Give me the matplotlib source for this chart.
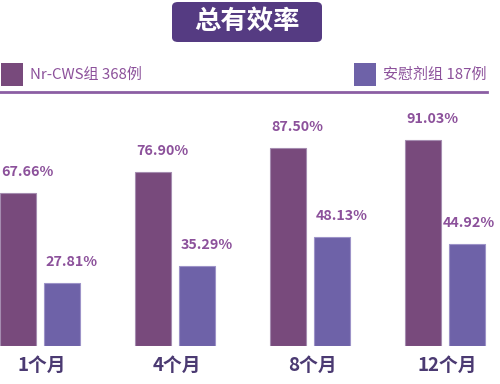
import numpy as np
import matplotlib
matplotlib.use("Agg")
import matplotlib.pyplot as plt
from matplotlib.patches import FancyBboxPatch, Rectangle

plt.rcParams['font.family'] = ['Noto Sans CJK SC', 'DejaVu Sans']

# data
categories = ["1个月", "4个月", "8个月", "12个月"]
nr_cws = [67.66, 76.90, 87.50, 91.03]
placebo = [27.81, 35.29, 48.13, 44.92]
series_names = ["Nr-CWS组 368例", "安慰剂组 187例"]
title = "总有效率"

c_dark = "#784a7c"
c_light = "#6e62a8"
c_label = "#8c519b"
c_tick = "#4b3a72"
c_title = "#553b82"

W, H = 500, 384
fig = plt.figure(figsize=(W / 100, H / 100), dpi=100)

# axes: x from 0 to 500 px, baseline at y=346 px, top at y=92 px
px_per_group = 135.0
ax_bottom = (H - 346) / H
ax_top = (H - 92) / H
ax = fig.add_axes([0, ax_bottom, 1, ax_top - ax_bottom])
ax.set_xlim(0, W / px_per_group)
ax.set_ylim(0, 254 / 2.263)

x = np.arange(len(categories))
bw = 36 / px_per_group
b1 = ax.bar(x + 18 / px_per_group, nr_cws, bw, color=c_dark, edgecolor="#a58cb0", linewidth=0.8)
b2 = ax.bar(x + 62 / px_per_group, placebo, bw, color=c_light, edgecolor="#9d93c8", linewidth=0.8)

for bars, vals in ((b1, nr_cws), (b2, placebo)):
    for i, (r, v) in enumerate(zip(bars, vals)):
        # last label pulled left a bit so it stays inside the figure
        dx = -4.5 if (bars is b2 and i == len(vals) - 1) else 1
        ax.annotate(f"{v:.2f}%", (r.get_x(), r.get_height()), xytext=(dx, 12.2),
                    textcoords="offset points", ha="left", va="baseline",
                    fontsize=10.3, fontweight="bold", color=c_label)

ax.set_xticks(x + 42 / px_per_group)
ax.set_xticklabels(categories, fontsize=13.5, color=c_tick, fontweight="bold")
ax.tick_params(axis="x", length=0, pad=7)
ax.set_yticks([])
for s in ax.spines.values():
    s.set_visible(False)
ax.patch.set_alpha(0)

# header line
fig.add_artist(plt.Line2D([0, 487 / W], [1 - 92 / H, 1 - 92 / H], color="#8b5ea3", lw=2,
                          transform=fig.transFigure))

# legend
def legend_item(x0, label, color):
    fig.add_artist(Rectangle((x0 / W, 1 - 86 / H), 22 / W, 23 / H, transform=fig.transFigure,
                             facecolor=color, edgecolor="none"))
    fig.text((x0 + 29) / W, 1 - 75 / H, label, fontsize=10.8, color=c_label, va="center", ha="left")

legend_item(1, series_names[0], c_dark)
legend_item(354, series_names[1], c_light)

# title box
fig.add_artist(FancyBboxPatch((172 / W, 1 - 42 / H), 150 / W, 40 / H,
                              boxstyle="round,pad=0,rounding_size=0.012",
                              transform=fig.transFigure, facecolor=c_title, edgecolor="none"))
fig.text(247 / W, 1 - 22 / H, title, fontsize=19, fontweight="bold", color="white",
         ha="center", va="center")

fig.savefig("out.png", dpi=100)
